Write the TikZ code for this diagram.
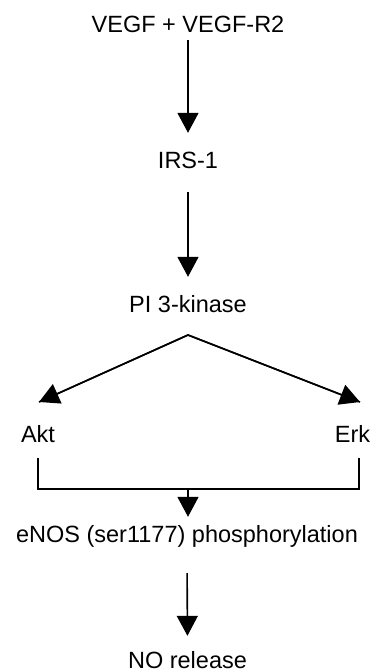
\documentclass[tikz,border=0pt]{standalone}
\usepackage{fontspec}
\setmainfont{Liberation Sans}
\usetikzlibrary{arrows.meta}
\begin{document}
\begin{tikzpicture}[x=1pt,y=-1pt,
  lbl/.style={anchor=base,inner sep=0pt,text height=17pt,text depth=5pt,
    font=\fontsize{23.5}{28}\selectfont},
  arr/.style={line width=1.6pt,-{Triangle[width=21pt,length=20pt]}},
  ln/.style={line width=1.5pt}]
\useasboundingbox (0,0) rectangle (373,672);
\node[lbl] (vegf) at (188,32) {VEGF + VEGF-R2};
\node[lbl] (irs) at (188,168) {IRS-1};
\node[lbl] (pi) at (188,312) {PI 3-kinase};
\node[lbl] (akt) at (38,442) {Akt};
\node[lbl] (erk) at (352.5,442) {Erk};
\node[lbl] (enos) at (187,542) {eNOS (ser1177) phosphorylation};
\node[lbl] (no) at (187.5,668.5) {NO release};
\coordinate (apex) at (188,335);
\coordinate (akttip) at (39,402);
\coordinate (erktip) at (360,402);
\coordinate (bl) at (38,458);
\coordinate (br) at (359,458);
\coordinate (bm) at (188,489);
\draw[arr,shorten <=3pt,shorten >=18pt] (vegf.south) -- (irs.north);
\draw[arr,shorten <=19pt,shorten >=18pt] (irs.south) -- (pi.north);
\draw[line width=1.6pt,line join=miter] (akttip) -- (apex) -- (erktip);
\draw[arr] (apex) -- (akttip);
\draw[arr] (apex) -- (erktip);
\draw[ln] (bl) |- (bm) -| (br);
\draw[arr,shorten >=8pt] (bm) -- (enos.north -| bm);
\draw[arr,shorten <=26pt,shorten >=15.5pt] (enos.south) -- (no.north);
\end{tikzpicture}
\end{document}
